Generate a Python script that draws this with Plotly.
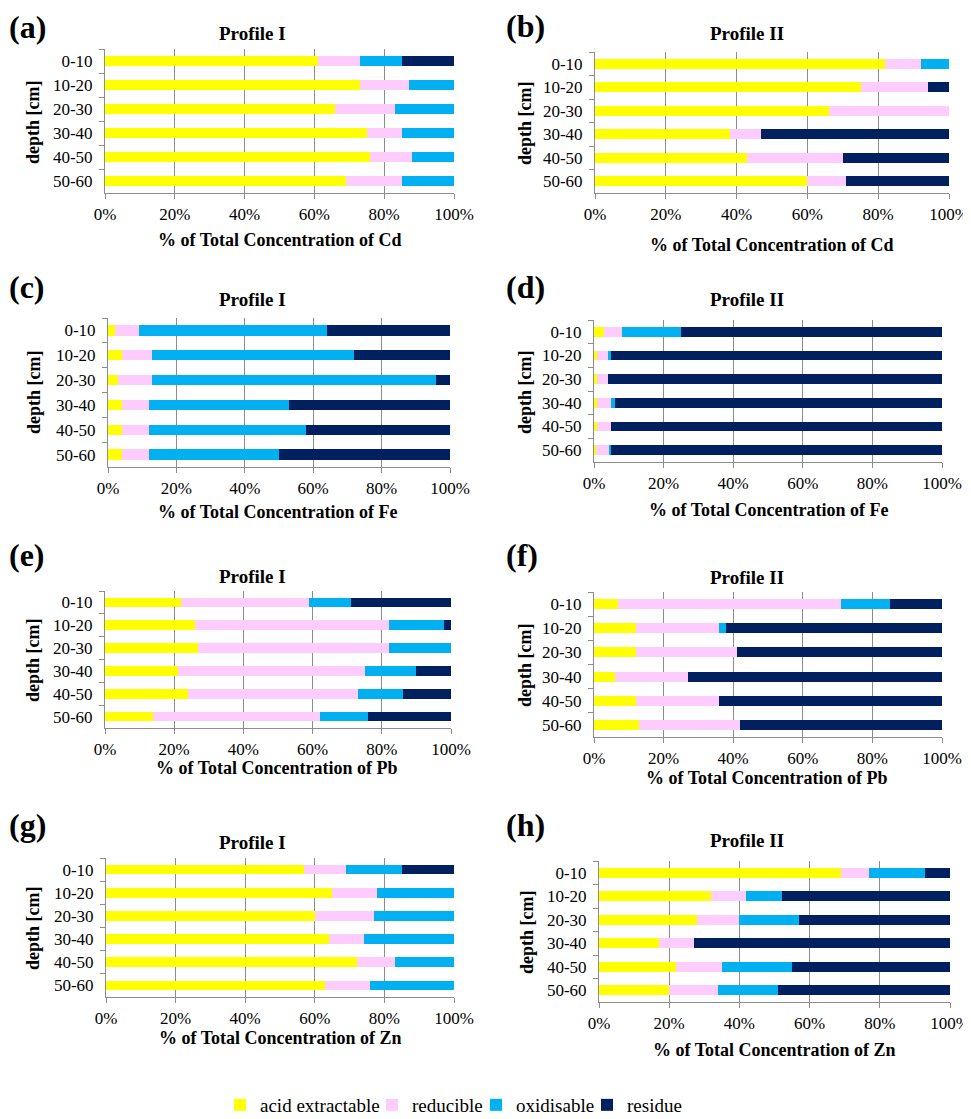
import plotly.graph_objects as go

# the page body has an 8px margin; the figure fills the rest of the 971x1119 window
OFF = 8
W, H = 971 - OFF, 1119 - OFF

depths = ["0-10", "10-20", "20-30", "30-40", "40-50", "50-60"]
fractions = ["acid extractable", "reducible", "oxidisable", "residue"]
colors = ["#FFFF00", "#FFCCFF", "#00B0F0", "#002060"]
tick_vals = [0, 20, 40, 60, 80, 100]
tick_text = ["0%", "20%", "40%", "60%", "80%", "100%"]

# each: [acid extractable, reducible, oxidisable, residue] per depth (0-10 ... 50-60), in %
cd_I = [[61, 73, 66, 75, 76, 69],
        [12, 14, 17, 10, 12, 16],
        [12, 13, 17, 15, 12, 15],
        [15, 0, 0, 0, 0, 0]]
cd_II = [[82, 75, 66, 38, 43, 60],
         [10, 19, 34, 9, 27, 11],
         [8, 0, 0, 0, 0, 0],
         [0, 6, 0, 53, 30, 29]]
fe_I = [[2, 4, 3, 4, 4, 4],
        [7, 9, 10, 8, 8, 8],
        [55, 59, 83, 41, 46, 38],
        [36, 28, 4, 47, 42, 50]]
fe_II = [[3, 1, 1, 1, 1, 0.5],
         [5, 3, 3, 4, 4, 4],
         [17, 1, 0, 1, 0, 0.5],
         [75, 95, 96, 94, 95, 95]]
pb_I = [[22, 26, 27, 21, 24, 14],
        [37, 56, 55, 54, 49, 48],
        [12, 16, 18, 15, 13, 14],
        [29, 2, 0, 10, 14, 24]]
pb_II = [[7, 12, 12, 6, 12, 13],
         [64, 24, 29, 21, 24, 29],
         [14, 2, 0, 0, 0, 0],
         [15, 62, 59, 73, 64, 58]]
zn_I = [[57, 65, 60, 64, 72, 63],
        [12, 13, 17, 10, 11, 13],
        [16, 22, 23, 26, 17, 24],
        [15, 0, 0, 0, 0, 0]]
zn_II = [[69, 32, 28, 17, 22, 20],
         [8, 10, 12, 10, 13, 14],
         [16, 10, 17, 0, 20, 17],
         [7, 48, 43, 73, 45, 49]]

panels = [
    # label, title, element, data, plot box (x0, x1, y0, y1 window px), label pos, title pos, xtitle pos, ytitle pos
    ("(a)", "Profile I", "Cd", cd_I, (105, 454, 49, 193), (27, 27), (252, 33), (280, 240), (33, 122)),
    ("(b)", "Profile II", "Cd", cd_II, (595, 949, 52, 193), (525, 26), (747, 33), (772, 245), (525, 123)),
    ("(c)", "Profile I", "Fe", fe_I, (108, 450, 318, 467), (27, 287), (252, 300), (277, 512), (34, 392)),
    ("(d)", "Profile II", "Fe", fe_II, (594, 942, 320, 462), (525, 287), (747, 300), (768, 510), (525, 392)),
    ("(e)", "Profile I", "Pb", pb_I, (105, 451, 591, 728), (27, 555), (252, 576), (277, 768), (33, 660)),
    ("(f)", "Profile II", "Pb", pb_II, (594, 942, 592, 737), (522, 555), (747, 577), (767, 778), (525, 665)),
    ("(g)", "Profile I", "Zn", zn_I, (106, 454, 858, 997), (27, 825), (252, 842), (280, 1038), (33, 928)),
    ("(h)", "Profile II", "Zn", zn_II, (599, 950, 861, 1002), (525, 825), (747, 840), (774, 1050), (527, 932)),
]

# left edge (window px) of each legend entry; its text starts 40px further right
legend_lefts = [220, 372, 476, 587]
LEGEND_Y = 1105

FONT = "Liberation Serif, Times New Roman, Tinos, DejaVu Serif, serif"
GRID = "#8c8c8c"
TICK_SIZE = 17


def px_x(v):
    return (v - OFF) / W


def px_y(v):
    return 1 - (v - OFF) / H


legend_names = ["legend", "legend2", "legend3", "legend4"]

fig = go.Figure()
annotations = []
layout_axes = {}

for i, (lab, title, el, data, box, lpos, tpos, xtpos, ytpos) in enumerate(panels):
    n = i + 1
    xa = "x" if n == 1 else f"x{n}"
    ya = "y" if n == 1 else f"y{n}"
    for k in range(4):
        fig.add_trace(go.Bar(
            x=data[k], y=depths, orientation="h",
            name=fractions[k], marker=dict(color=colors[k], line=dict(width=0)),
            width=0.42, xaxis=xa, yaxis=ya,
            legend=legend_names[k],
            legendgroup=fractions[k], showlegend=(i == 0),
        ))
    x0, x1, y0, y1 = box
    layout_axes[f"xaxis{'' if n == 1 else n}"] = dict(
        domain=[px_x(x0), px_x(x1)], anchor=ya, range=[0, 100], automargin=False,
        tickmode="array", tickvals=tick_vals, ticktext=tick_text,
        showgrid=True, gridcolor=GRID, gridwidth=1, zeroline=False,
        showline=True, linecolor=GRID, linewidth=1,
        ticks="outside", ticklen=5, tickcolor=GRID,
        tickfont=dict(family=FONT, size=TICK_SIZE, color="black"),
        ticklabelstandoff=1,
    )
    layout_axes[f"yaxis{'' if n == 1 else n}"] = dict(
        domain=[px_y(y1), px_y(y0)], anchor=xa, automargin=False,
        type="category", categoryorder="array", categoryarray=depths,
        range=[5.5, -0.5], tickson="boundaries",
        showgrid=False, zeroline=False,
        showline=True, linecolor=GRID, linewidth=1,
        ticks="outside", ticklen=5, tickcolor=GRID,
        tickfont=dict(family=FONT, size=TICK_SIZE, color="black"),
        ticklabelstandoff=8,
    )
    annotations.append(dict(text=f"<b>{lab}</b>", x=px_x(lpos[0]), y=px_y(lpos[1]),
                            xref="paper", yref="paper", showarrow=False,
                            font=dict(family=FONT, size=32, color="black"),
                            xanchor="center", yanchor="middle"))
    annotations.append(dict(text=f"<b>{title}</b>", x=px_x(tpos[0]), y=px_y(tpos[1]),
                            xref="paper", yref="paper", showarrow=False,
                            font=dict(family=FONT, size=19, color="black"),
                            xanchor="center", yanchor="middle"))
    annotations.append(dict(text=f"<b>% of Total Concentration of {el}</b>",
                            x=px_x(xtpos[0]), y=px_y(xtpos[1]),
                            xref="paper", yref="paper", showarrow=False,
                            font=dict(family=FONT, size=18, color="black"),
                            xanchor="center", yanchor="middle"))
    annotations.append(dict(text="<b>depth [cm]</b>", x=px_x(ytpos[0]), y=px_y(ytpos[1]),
                            xref="paper", yref="paper", showarrow=False, textangle=-90,
                            font=dict(family=FONT, size=18, color="black"),
                            xanchor="center", yanchor="middle"))

legends = {}
for k, name in enumerate(legend_names):
    legends[name] = dict(orientation="h", x=px_x(legend_lefts[k]), xanchor="left",
                         y=px_y(LEGEND_Y), yanchor="middle",
                         font=dict(family=FONT, size=19, color="black"), itemwidth=30,
                         bgcolor="rgba(0,0,0,0)", borderwidth=0)

fig.update_layout(
    width=W, height=H,
    margin=dict(l=0, r=0, t=0, b=0, autoexpand=False),
    paper_bgcolor="white", plot_bgcolor="white",
    barmode="stack", bargap=0.58,
    font=dict(family=FONT, size=18, color="black"),
    annotations=annotations,
    **legends,
    **layout_axes,
)

fig.write_html("out.html")
